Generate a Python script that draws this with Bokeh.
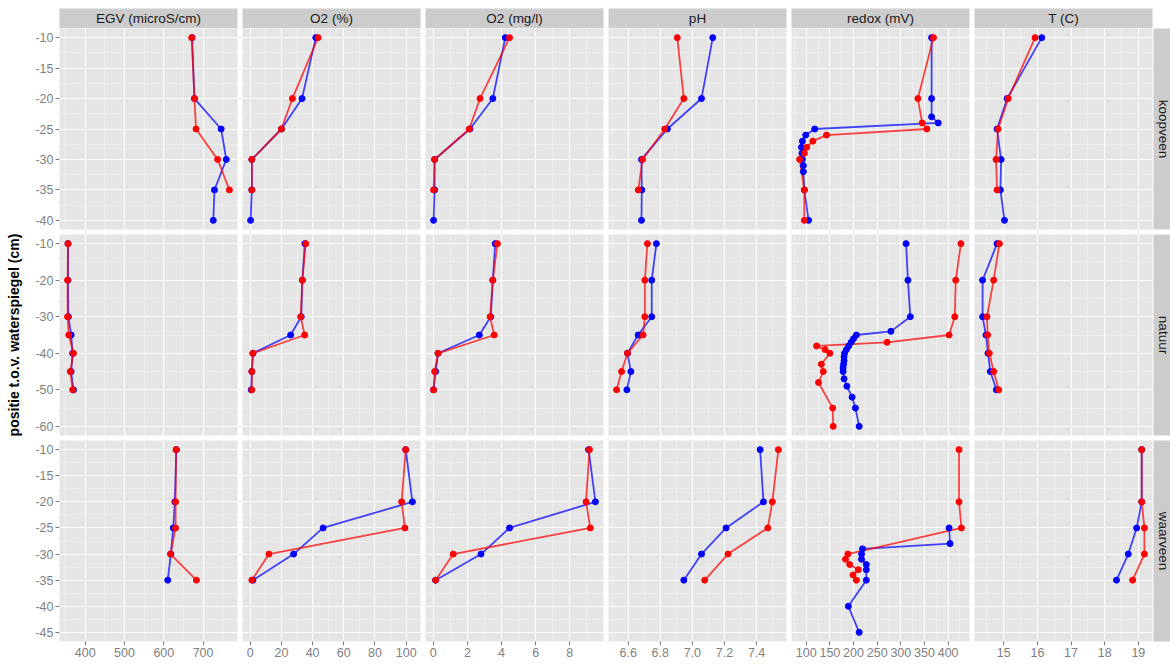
import math
from bokeh.plotting import figure
from bokeh.layouts import column, row
from bokeh.models import Range1d, FixedTicker, PrintfTickFormatter, Spacer
from bokeh.core.properties import value
from bokeh.embed import file_html
from bokeh.resources import INLINE

variables = ["EGV (microS/cm)", "O2 (%)", "O2 (mg/l)", "pH", "redox (mV)", "T (C)"]
locations = ["koopveen", "natuur", "waarveen"]
y_title = "positie t.o.v. waterspiegel (cm)"

# ---------------- koopveen ----------------
koop_depth_blue = [-10, -20, -25, -30, -35, -40]
koop_depth_red = [-10, -20, -25, -30, -35]
koop_egv_blue = [672, 678, 746, 759, 729, 726]
koop_egv_red = [671, 678, 682, 737, 767]
koop_o2pct_blue = [42, 33.2, 20, 1.0, 1.0, 0.2]
koop_o2pct_red = [43.5, 27, 20, 1.0, 1.0]
koop_o2mg_blue = [4.22, 3.49, 2.15, 0.08, 0.08, 0.02]
koop_o2mg_red = [4.47, 2.74, 2.11, 0.08, 0.02]
koop_ph_blue = [7.127, 7.057, 6.844, 6.683, 6.685, 6.683]
koop_ph_red = [6.906, 6.947, 6.828, 6.690, 6.663]
koop_t_blue = [16.13, 15.10, 14.80, 14.92, 14.90, 15.02]
koop_t_red = [15.93, 15.13, 14.83, 14.77, 14.80]
koop_redox_depth_blue = [-10, -20, -23, -24, -25, -26, -27, -28, -29, -30, -31, -32, -35, -40]
koop_redox_blue = [365, 365, 365, 379, 118, 99, 92, 90, 91, 92, 94, 94, 96, 105]
koop_redox_depth_red = [-10, -20, -24, -25, -26, -27, -28, -29, -30, -35, -40]
koop_redox_red = [369, 336, 345, 355, 143, 114, 101, 96, 86, 96, 96]

# ---------------- natuur ----------------
nat_depth = [-10, -20, -30, -35, -40, -45, -50]
nat_egv_blue = [356, 356, 357, 364, 368, 364, 370]
nat_egv_red = [356, 355, 355, 358, 370, 362, 368]
nat_o2pct_blue = [35, 33.4, 32.7, 25.9, 1.7, 1.0, 0.6]
nat_o2pct_red = [35.6, 33.4, 32.3, 34.9, 1.7, 1.0, 1.0]
nat_o2mg_blue = [3.63, 3.49, 3.37, 2.70, 0.28, 0.14, 0.02]
nat_o2mg_red = [3.76, 3.49, 3.33, 3.57, 0.28, 0.08, 0.02]
nat_ph_blue = [6.776, 6.747, 6.747, 6.662, 6.596, 6.617, 6.592]
nat_ph_red = [6.720, 6.704, 6.704, 6.693, 6.596, 6.559, 6.528]
nat_t_blue = [14.80, 14.37, 14.37, 14.47, 14.53, 14.60, 14.78]
nat_t_red = [14.87, 14.70, 14.50, 14.52, 14.57, 14.70, 14.85]
nat_redox_depth_blue = [-10, -20, -30, -34, -35, -36, -37, -38, -39, -40, -41, -42, -43, -44, -45, -47, -49, -52, -55, -60]
nat_redox_blue = [311, 315, 320, 279, 206, 200, 195, 190, 185, 181, 180, 180, 179, 178, 178, 180, 186, 197, 204, 212]
nat_redox_depth_red = [-10, -20, -30, -35, -37, -38, -39, -40, -43, -45, -48, -55, -60]
nat_redox_red = [427, 416, 414, 402, 271, 122, 140, 150, 132, 136, 126, 156, 157]

# ---------------- waarveen ----------------
waar_depth = [-10, -20, -25, -30, -35]
waar_egv_blue = [632, 628, 624, 618, 610]
waar_egv_red = [631, 630, 630, 617, 683]
waar_o2pct_blue = [99.7, 104.0, 46.7, 27.8, 1.7]
waar_o2pct_red = [99.7, 97.1, 99.2, 12.0, 1.0]
waar_o2mg_blue = [9.10, 9.50, 4.47, 2.80, 0.14]
waar_o2mg_red = [9.15, 8.95, 9.20, 1.17, 0.14]
waar_ph_blue = [7.422, 7.443, 7.210, 7.057, 6.947]
waar_ph_red = [7.536, 7.498, 7.470, 7.222, 7.077]
waar_t_blue = [19.10, 19.10, 18.95, 18.70, 18.35]
waar_t_red = [19.10, 19.10, 19.18, 19.18, 18.83]
waar_redox_depth_blue = [-25, -28, -29, -30, -31, -32, -33, -35, -40, -45]
waar_redox_blue = [402, 404, 219, 217, 217, 227, 227, 227, 189, 212]
waar_redox_depth_red = [-10, -20, -25, -30, -31, -32, -33, -34, -35]
waar_redox_red = [423, 423, 428, 188, 183, 192, 210, 199, 206]

# ---------------- tick labels ----------------
egv_ticks = [400, 500, 600, 700]
o2pct_ticks = [0, 20, 40, 60, 80, 100]
o2mg_ticks = [0, 2, 4, 6, 8]
ph_ticks = [6.6, 6.8, 7.0, 7.2, 7.4]
redox_ticks = [100, 150, 200, 250, 300, 350, 400]
t_ticks = [15, 16, 17, 18, 19]
koop_depth_ticks = [-40, -35, -30, -25, -20, -15, -10]
nat_depth_ticks = [-60, -50, -40, -30, -20, -10]
waar_depth_ticks = [-45, -40, -35, -30, -25, -20, -15, -10]

x_ticks = [egv_ticks, o2pct_ticks, o2mg_ticks, ph_ticks, redox_ticks, t_ticks]
x_formats = ["%d", "%d", "%d", "%.1f", "%d", "%d"]
y_ticks = [koop_depth_ticks, nat_depth_ticks, waar_depth_ticks]

panels = {
    (0, 0): ((koop_egv_blue, koop_depth_blue), (koop_egv_red, koop_depth_red)),
    (0, 1): ((koop_o2pct_blue, koop_depth_blue), (koop_o2pct_red, koop_depth_red)),
    (0, 2): ((koop_o2mg_blue, koop_depth_blue), (koop_o2mg_red, koop_depth_red)),
    (0, 3): ((koop_ph_blue, koop_depth_blue), (koop_ph_red, koop_depth_red)),
    (0, 4): ((koop_redox_blue, koop_redox_depth_blue), (koop_redox_red, koop_redox_depth_red)),
    (0, 5): ((koop_t_blue, koop_depth_blue), (koop_t_red, koop_depth_red)),
    (1, 0): ((nat_egv_blue, nat_depth), (nat_egv_red, nat_depth)),
    (1, 1): ((nat_o2pct_blue, nat_depth), (nat_o2pct_red, nat_depth)),
    (1, 2): ((nat_o2mg_blue, nat_depth), (nat_o2mg_red, nat_depth)),
    (1, 3): ((nat_ph_blue, nat_depth), (nat_ph_red, nat_depth)),
    (1, 4): ((nat_redox_blue, nat_redox_depth_blue), (nat_redox_red, nat_redox_depth_red)),
    (1, 5): ((nat_t_blue, nat_depth), (nat_t_red, nat_depth)),
    (2, 0): ((waar_egv_blue, waar_depth), (waar_egv_red, waar_depth)),
    (2, 1): ((waar_o2pct_blue, waar_depth), (waar_o2pct_red, waar_depth)),
    (2, 2): ((waar_o2mg_blue, waar_depth), (waar_o2mg_red, waar_depth)),
    (2, 3): ((waar_ph_blue, waar_depth), (waar_ph_red, waar_depth)),
    (2, 4): ((waar_redox_blue, waar_redox_depth_blue), (waar_redox_red, waar_redox_depth_red)),
    (2, 5): ((waar_t_blue, waar_depth), (waar_t_red, waar_depth)),
}

# ---------------- layout constants ----------------
FW, FH = 178, 201
GAP = 5
LEFT = 59
TOP = 8
STRIP_H = 20
RSTRIP_W = 17
BOTTOM = 27
PANEL_BG = "#E5E5E5"
STRIP_BG = "#CCCCCC"
TICK_COL = "#7F7F7F"
FONT = "Liberation Sans"
COLORS = ["blue", "red"]


def padded(vals):
    lo, hi = min(vals), max(vals)
    pad = 0.05 * (hi - lo)
    return lo - pad, hi + pad


def minor_between(ticks, lo, hi):
    step = ticks[1] - ticks[0]
    ext = [ticks[0] - step] + list(ticks) + [ticks[-1] + step]
    mids = [(a + b) / 2 for a, b in zip(ext[:-1], ext[1:])]
    return [m for m in mids if lo <= m <= hi]


x_ranges, x_minor = [], []
for ci in range(6):
    allv = []
    for ri in range(3):
        for vals, _ in panels[(ri, ci)]:
            allv += list(vals)
    lo, hi = padded(allv)
    x_ranges.append(Range1d(lo, hi))
    x_minor.append(minor_between(x_ticks[ci], lo, hi))

y_ranges, y_minor = [], []
for ri in range(3):
    alld = []
    for ci in range(6):
        for _, d in panels[(ri, ci)]:
            alld += list(d)
    lo, hi = padded(alld)
    y_ranges.append(Range1d(lo, hi))
    y_minor.append(minor_between(y_ticks[ri], lo, hi))


def style_axis(ax):
    ax.axis_line_color = None
    ax.major_tick_line_color = TICK_COL
    ax.major_tick_in = 0
    ax.major_tick_out = 4
    ax.minor_tick_line_color = None
    ax.major_label_text_color = TICK_COL
    ax.major_label_text_font = FONT
    ax.major_label_text_font_size = "12.5px"
    ax.major_label_standoff = 2


def make_panel(ri, ci):
    left = LEFT if ci == 0 else 0
    right = GAP if ci < 5 else 1
    bottom = GAP if ri < 2 else BOTTOM
    p = figure(width=FW + left + right, height=FH + bottom,
               min_border_left=left, min_border_right=right,
               min_border_top=0, min_border_bottom=bottom,
               x_range=x_ranges[ci], y_range=y_ranges[ri],
               x_axis_location="below" if ri == 2 else None,
               y_axis_location="left" if ci == 0 else None,
               output_backend="svg", toolbar_location=None, title=None)
    p.background_fill_color = PANEL_BG
    p.border_fill_color = "white"
    p.outline_line_color = None
    xt = FixedTicker(ticks=x_ticks[ci], minor_ticks=x_minor[ci])
    yt = FixedTicker(ticks=y_ticks[ri], minor_ticks=y_minor[ri])
    p.xgrid.ticker = xt
    p.ygrid.ticker = yt
    for g in (p.xgrid, p.ygrid):
        g.grid_line_color = "white"
        g.grid_line_width = 1.1
        g.minor_grid_line_color = "#F4F4F4"
        g.minor_grid_line_width = 0.6
    if ri == 2:
        p.xaxis.ticker = xt
        p.xaxis.formatter = PrintfTickFormatter(format=x_formats[ci])
        style_axis(p.xaxis)
    if ci == 0:
        p.yaxis.ticker = yt
        p.yaxis.formatter = PrintfTickFormatter(format="%d")
        style_axis(p.yaxis)
        if ri == 1:
            p.yaxis.axis_label = y_title
            p.yaxis.axis_label_text_font = FONT
            p.yaxis.axis_label_text_font_size = "14px"
            p.yaxis.axis_label_text_font_style = "bold"
            p.yaxis.axis_label_text_color = "black"
            p.yaxis.axis_label_standoff = 10
    series = panels[(ri, ci)]
    for (vals, depth), col in zip(series, COLORS):
        p.line(vals, depth, line_color=col, line_width=1.8, line_alpha=0.72)
    for (vals, depth), col in zip(series, COLORS):
        p.scatter(vals, depth, size=6, fill_color=col, line_color=col)
    return p


def make_top_strip(ci):
    left = LEFT if ci == 0 else 0
    right = GAP if ci < 5 else 1
    p = figure(width=FW + left + right, height=TOP + STRIP_H,
               min_border_left=left, min_border_right=right,
               min_border_top=TOP, min_border_bottom=0,
               x_range=Range1d(0, 1), y_range=Range1d(0, 1),
               x_axis_location=None, y_axis_location=None,
               output_backend="svg", toolbar_location=None, title=None)
    p.background_fill_color = STRIP_BG
    p.border_fill_color = "white"
    p.outline_line_color = None
    p.grid.visible = False
    p.text(x=[0.5], y=[0.5], text=[variables[ci]], text_align="center",
           text_baseline="middle", text_font=value(FONT),
           text_font_size="13.5px", text_color="#1A1A1A")
    return p


def make_right_strip(ri):
    bottom = GAP if ri < 2 else BOTTOM
    p = figure(width=RSTRIP_W, height=FH + bottom,
               min_border_left=0, min_border_right=0,
               min_border_top=0, min_border_bottom=bottom,
               x_range=Range1d(0, 1), y_range=Range1d(0, 1),
               x_axis_location=None, y_axis_location=None,
               output_backend="svg", toolbar_location=None, title=None)
    p.background_fill_color = STRIP_BG
    p.border_fill_color = "white"
    p.outline_line_color = None
    p.grid.visible = False
    p.text(x=[0.6], y=[0.5], text=[locations[ri]], angle=-math.pi / 2,
           text_align="center", text_baseline="middle", text_font=value(FONT),
           text_font_size="13.5px", text_color="#1A1A1A")
    return p


rows = [row([make_top_strip(ci) for ci in range(6)] + [Spacer(width=RSTRIP_W, height=TOP + STRIP_H)])]
for ri in range(3):
    rows.append(row([make_panel(ri, ci) for ci in range(6)] + [make_right_strip(ri)]))

layout = column(rows)

open("out.html", "w").write(file_html(layout, INLINE))
